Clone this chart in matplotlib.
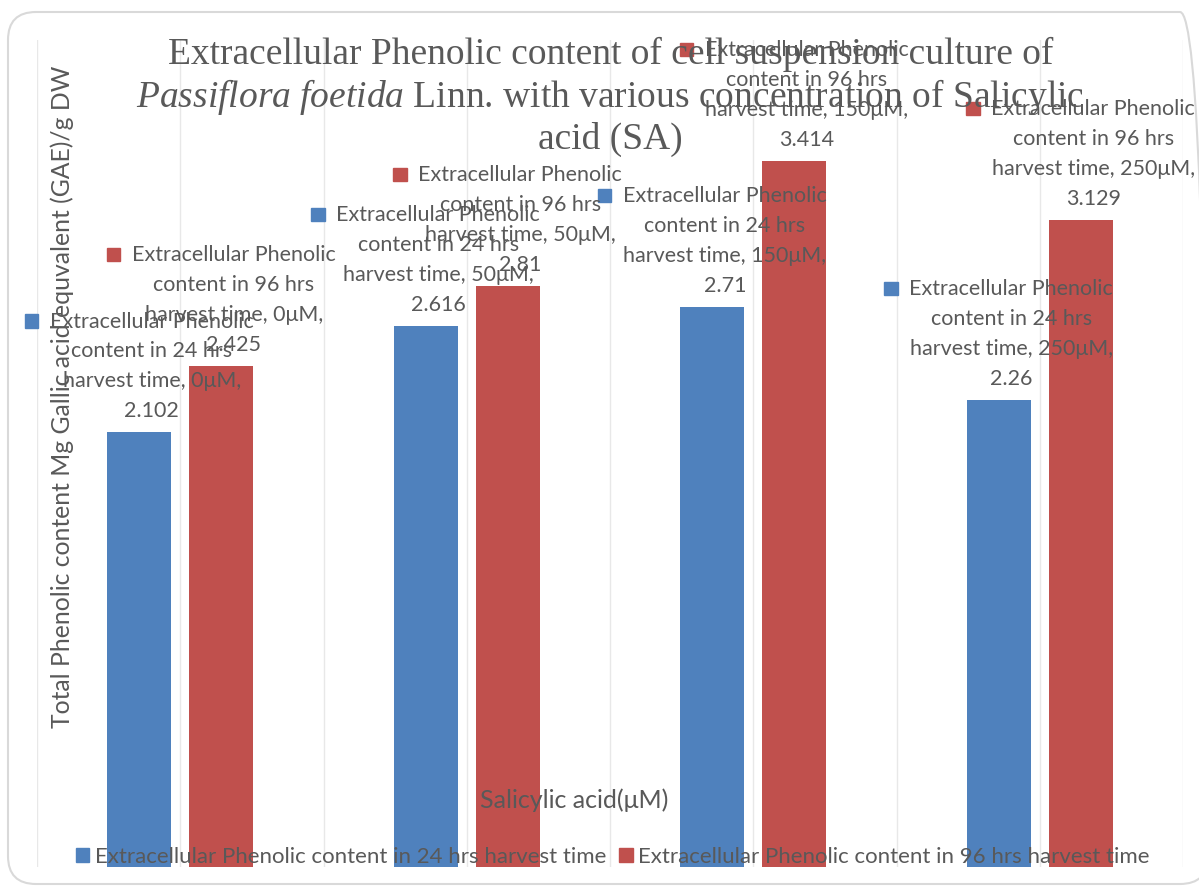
import matplotlib.pyplot as plt
import numpy as np
from matplotlib.offsetbox import AnnotationBbox, DrawingArea, HPacker, TextArea
from matplotlib.patches import Rectangle, FancyBboxPatch
from matplotlib.transforms import IdentityTransform

categories = ["0μM", "50μM", "150μM", "250μM"]
series = ["Extracellular Phenolic content in 24 hrs harvest time",
          "Extracellular Phenolic content in 96 hrs harvest time"]
short_hours = ["24 hrs", "96 hrs"]
values_24h = [2.102, 2.616, 2.71, 2.26]
values_96h = [2.425, 2.81, 3.414, 3.129]
colors = ["#4F81BD", "#C0504D"]

TEXT = "#595959"
SANS = "Lato"
SERIF = "Liberation Serif"

plt.rcParams['mathtext.fontset'] = 'custom'
plt.rcParams['mathtext.it'] = 'Liberation Serif:italic'
plt.rcParams['mathtext.rm'] = 'Liberation Serif'


def main():
    fig = plt.figure(figsize=(11.99, 8.88), dpi=100)

    # rounded chart border
    border = FancyBboxPatch((8, 4), 1200, 872, boxstyle="round,pad=0,rounding_size=28",
                            transform=IdentityTransform(), facecolor="none",
                            edgecolor="#D9D9D9", lw=1.5)
    fig.patches.append(border)

    ax = fig.add_axes([0.0309, 0.0236, 0.9558, 0.9314])
    x = np.arange(len(categories))
    width = 0.223
    offset = 0.143
    all_values = [values_24h, values_96h]

    for g in np.arange(-0.5, len(categories), 0.5):
        ax.axvline(g, color="#E8E8E8", lw=1, zorder=0)

    for i, vals in enumerate(all_values):
        xs = x + (2 * i - 1) * offset
        ax.bar(xs, vals, width, color=colors[i], zorder=2)
        for xv, v, cat in zip(xs, vals, categories):
            txt = "Extracellular Phenolic\ncontent in %s\nharvest time, %s,\n%g" % (
                short_hours[i], cat, v)
            ta = TextArea(txt, textprops=dict(color=TEXT, fontsize=15.5, family=SANS,
                                              multialignment='center', linespacing=1.62))
            da = DrawingArea(10, 17)
            da.add_artist(Rectangle((0, 5.5), 9.5, 9.5, color=colors[i]))
            box = HPacker(children=[da, ta], align="top", pad=0, sep=8)
            ab = AnnotationBbox(box, (xv, v), xybox=(0, 8), xycoords='data',
                                boxcoords='offset points', box_alignment=(0.5, 0),
                                frameon=False, pad=0, zorder=4, annotation_clip=False)
            ax.add_artist(ab)

    ax.set_xlim(-0.5, len(categories) - 0.5)
    ax.set_ylim(0, 4)
    for s in ax.spines.values():
        s.set_visible(False)
    ax.set_xticks([])
    ax.set_yticks([])

    handles = [Rectangle((0, 0), 1, 1, color=c) for c in colors]
    ax.legend(handles, series, loc='center', bbox_to_anchor=(0.511, 0.035),
              bbox_transform=fig.transFigure, ncol=2, frameon=False,
              handlelength=0.6, handleheight=0.6, handletextpad=0.25,
              columnspacing=0.6, prop=dict(family=SANS, size=16), labelcolor=TEXT)

    fig.text(0.509, 1 - 97 / 888,
             "Extracellular Phenolic content of cell suspension culture of\n"
             r"$\it{Passiflora\ foetida}$ Linn. with various concentration of Salicylic" "\n"
             "acid (SA)",
             family=SERIF, fontsize=27, color=TEXT, ha='center', va='center',
             linespacing=1.17, zorder=5)

    fig.text(62 / 1199, 1 - 397 / 888,
             "Total Phenolic content Mg Gallic acid equvalent (GAE)/g DW",
             rotation=90, ha='center', va='center', family=SANS, fontsize=17.8,
             color=TEXT, zorder=5)
    fig.text(574 / 1199, 1 - 800 / 888, "Salicylic acid(μM)", ha='center', va='center',
             family=SANS, fontsize=18, color=TEXT, zorder=5)

    fig.savefig("out.png", dpi=100, facecolor="white")


if __name__ == "__main__":
    main()
